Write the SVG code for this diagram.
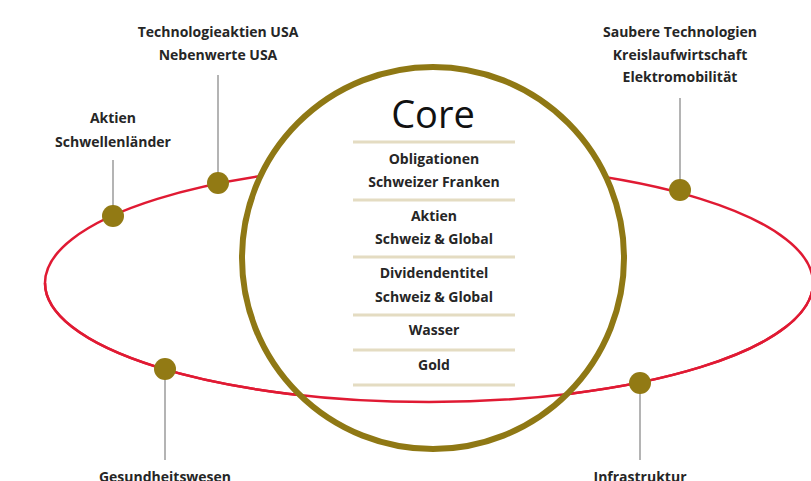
<svg xmlns="http://www.w3.org/2000/svg" width="811" height="481" viewBox="0 0 811 481">
  <style>
    .orbit { fill: none; stroke: #e01a33; stroke-width: 2.5; }
    .core-ring { fill: none; stroke: #8f7814; stroke-width: 6; }
    .rule { stroke: #e4dcc2; stroke-width: 3; }
    .leader { stroke: #b4b4b4; stroke-width: 2; }
    .dot { fill: #927a14; }
    .lbl { font-family: "Open Sans", "Liberation Sans", sans-serif; font-weight: 700; font-size: 14px; fill: #262626; text-anchor: middle; }
    .title { font-family: "Open Sans", "Liberation Sans", sans-serif; font-weight: 400; font-size: 38px; fill: #111; text-anchor: middle; }
  </style>
  <rect width="811" height="481" fill="#ffffff"/>

  <!-- orbit: back half, hidden behind the core disc -->
  <g id="orbit-back">
    <ellipse class="orbit" cx="429" cy="283" rx="384" ry="119"/>
  </g>

  <!-- core disc -->
  <g id="core">
    <circle cx="433" cy="258" r="191" fill="#ffffff"/>
  </g>

  <!-- orbit: front half, passes over the disc -->
  <g id="orbit-front">
    <path class="orbit" d="M45,283 A384,119 0 0 0 813,283"/>
  </g>

  <g id="core-ring">
    <circle class="core-ring" cx="433" cy="258" r="191"/>
  </g>

  <!-- core list -->
  <g id="core-list">
    <text class="title" x="433" y="128">Core</text>
    <line class="rule" x1="353" y1="142" x2="515" y2="142"/>
    <text class="lbl" x="434" y="164">Obligationen</text>
    <text class="lbl" x="434" y="187">Schweizer Franken</text>
    <line class="rule" x1="353" y1="200" x2="515" y2="200"/>
    <text class="lbl" x="434" y="221">Aktien</text>
    <text class="lbl" x="434" y="244">Schweiz &amp; Global</text>
    <line class="rule" x1="353" y1="257" x2="515" y2="257"/>
    <text class="lbl" x="434" y="278">Dividendentitel</text>
    <text class="lbl" x="434" y="302">Schweiz &amp; Global</text>
    <line class="rule" x1="353" y1="315" x2="515" y2="315"/>
    <text class="lbl" x="434" y="335">Wasser</text>
    <line class="rule" x1="353" y1="350" x2="515" y2="350"/>
    <text class="lbl" x="434" y="370">Gold</text>
    <line class="rule" x1="353" y1="385" x2="515" y2="385"/>
  </g>

  <!-- leader lines -->
  <g id="connectors">
    <line class="leader" x1="113" y1="160" x2="113" y2="216"/>
    <line class="leader" x1="218" y1="75" x2="218" y2="183"/>
    <line class="leader" x1="680" y1="98" x2="680" y2="190"/>
    <line class="leader" x1="165" y1="369" x2="165" y2="460"/>
    <line class="leader" x1="640" y1="383" x2="640" y2="460"/>
  </g>

  <g id="node-schwellenlaender">
    <circle class="dot" cx="113" cy="216" r="11"/>
    <text class="lbl" x="113" y="123">Aktien</text>
    <text class="lbl" x="113" y="147">Schwellenländer</text>
  </g>

  <g id="node-usa">
    <circle class="dot" cx="218" cy="183" r="11"/>
    <text class="lbl" x="218" y="37">Technologieaktien USA</text>
    <text class="lbl" x="218" y="60">Nebenwerte USA</text>
  </g>

  <g id="node-cleantech">
    <circle class="dot" cx="680" cy="190" r="11"/>
    <text class="lbl" x="680" y="37">Saubere Technologien</text>
    <text class="lbl" x="680" y="60">Kreislaufwirtschaft</text>
    <text class="lbl" x="680" y="82">Elektromobilität</text>
  </g>

  <g id="node-gesundheit">
    <circle class="dot" cx="165" cy="369" r="11"/>
    <text class="lbl" x="165" y="482">Gesundheitswesen</text>
  </g>

  <g id="node-infrastruktur">
    <circle class="dot" cx="640" cy="383" r="11"/>
    <text class="lbl" x="640" y="482">Infrastruktur</text>
  </g>
</svg>
